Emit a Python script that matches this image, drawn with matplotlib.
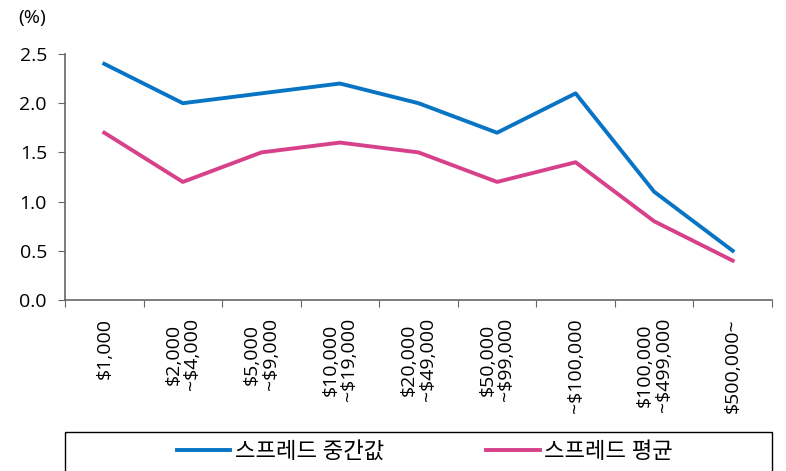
import matplotlib
matplotlib.use("Agg")
import matplotlib.pyplot as plt
from matplotlib.patches import Rectangle
import numpy as np

plt.rcParams['font.family'] = ['Open Sans', 'Noto Sans CJK KR', 'DejaVu Sans']

# data
categories = ["$1,000", "$2,000\n~$4,000", "$5,000\n~$9,000", "$10,000\n~$19,000",
              "$20,000\n~$49,000", "$50,000\n~$99,000", "~$100,000",
              "$100,000\n~$499,000", "$500,000~"]
spread_median = [2.4, 2.0, 2.1, 2.2, 2.0, 1.7, 2.1, 1.1, 0.5]
spread_mean = [1.7, 1.2, 1.5, 1.6, 1.5, 1.2, 1.4, 0.8, 0.4]
y_ticks = [0.0, 0.5, 1.0, 1.5, 2.0, 2.5]

blue = "#0874C4"
pink = "#D6418A"
grey = "#666666"

fig = plt.figure(figsize=(7.86, 4.71), dpi=100)
ax = fig.add_axes([65 / 786, 1 - 300 / 471, 707 / 786, 246 / 471])

x = np.arange(len(categories))
l1, = ax.plot(x, spread_median, color=blue, lw=2.8, label="스프레드 중간값")
l2, = ax.plot(x, spread_mean, color=pink, lw=2.8, label="스프레드 평균")

ax.set_xlim(-0.5, len(categories) - 0.5)
ax.set_ylim(0, 2.5)
ax.set_yticks(y_ticks)
ax.set_yticklabels([f"{v:.1f}" for v in y_ticks], fontsize=14)

# ticks on the category boundaries, labels centred under the points
ax.set_xticks(np.arange(-0.5, len(categories), 1.0))
ax.set_xticklabels([])
ax.set_xticks(x, minor=True)
ax.set_xticklabels(categories, minor=True, rotation=90, fontsize=14,
                   va="top", ha="center", linespacing=1.05)
ax.tick_params(axis="x", which="minor", length=0, pad=13)
ax.tick_params(axis="x", which="major", length=5, direction="out", color=grey)
ax.tick_params(axis="y", length=5, direction="out", color=grey, pad=8)

for s in ["top", "right"]:
    ax.spines[s].set_visible(False)
for s in ["left", "bottom"]:
    ax.spines[s].set_color(grey)
    ax.spines[s].set_linewidth(1.2)

fig.text(18 / 786, 1 - 18 / 471, "(%)", fontsize=14, va="center", ha="left")

# legend box runs off the bottom of the image
fig.patches.append(Rectangle((65 / 786, -0.05), 707 / 786, 0.05 + 39 / 471,
                             transform=fig.transFigure, fill=False,
                             edgecolor="black", lw=1.0))
fig.legend(handles=[l1, l2], loc="center", ncol=2,
           bbox_to_anchor=(425 / 786, 1 - 452 / 471), frameon=False,
           fontsize=16, handlelength=2.4, handletextpad=0.2, columnspacing=4.6)

fig.savefig("out.png", dpi=100)
